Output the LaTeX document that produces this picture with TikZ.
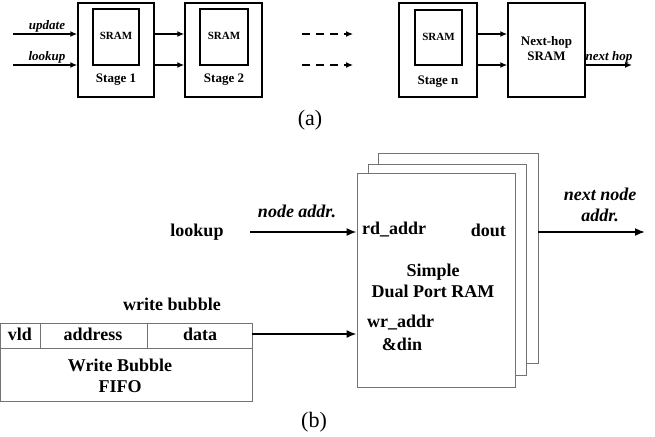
\documentclass[tikz,border=0pt]{standalone}
\usepackage{fontspec}
\setmainfont{Liberation Serif}
\usetikzlibrary{arrows.meta}
\tikzset{
  arr/.style={line width=1.4pt, -{Latex[length=7pt,width=6pt]}},
  darr/.style={line width=1.2pt, dash pattern=on 8pt off 6pt, -{Latex[length=7pt,width=6pt]}},
  barr/.style={line width=1.8pt, -{Latex[length=10pt,width=8pt]}},
  ram/.style={draw=black!55, line width=0.8pt, fill=white},
  fifo/.style={draw=black!55, line width=0.8pt},
  ta/.style={font=\fontsize{13}{15}\selectfont\bfseries, inner sep=0pt},
  tai/.style={font=\fontsize{13}{15}\selectfont\bfseries\itshape, inner sep=0pt},
  tsr/.style={font=\fontsize{11}{13}\selectfont\bfseries, inner sep=0pt},
  tb/.style={font=\fontsize{18}{21}\selectfont\bfseries, inner sep=0pt, align=center},
  tbi/.style={font=\fontsize{18}{21}\selectfont\bfseries\itshape, inner sep=0pt, align=center},
  captext/.style={font=\fontsize{22}{24}\selectfont, inner sep=0pt}
}
\begin{document}
\begin{tikzpicture}[x=1pt,y=-1pt]
\useasboundingbox (0,0) rectangle (655,436);
% ---------- (a) ----------
\node[draw, line width=1.5pt, minimum width=76pt, minimum height=94pt, inner sep=0pt] (s1) at (116,50) {};
\node[draw, line width=1.5pt, minimum width=46pt, minimum height=56pt, inner sep=0pt] (s1i) at (116,37) {};
\node[tsr] (s1t) at (116,36) {SRAM};
\node[ta] (s1l) at (116,80) {Stage 1};

\node[draw, line width=1.5pt, minimum width=77pt, minimum height=94pt, inner sep=0pt] (s2) at (223.5,50) {};
\node[draw, line width=1.5pt, minimum width=48pt, minimum height=56pt, inner sep=0pt] (s2i) at (224,37) {};
\node[tsr] (s2t) at (224,36) {SRAM};
\node[ta] (s2l) at (224,80) {Stage 2};

\node[draw, line width=1.5pt, minimum width=78pt, minimum height=94pt, inner sep=0pt] (sn) at (438,50) {};
\node[draw, line width=1.5pt, minimum width=47pt, minimum height=55pt, inner sep=0pt] (sni) at (438.5,37.5) {};
\node[tsr] (snt) at (438.5,37) {SRAM};
\node[ta] (snl) at (438,82) {Stage n};

\node[draw, line width=1.5pt, minimum width=77pt, minimum height=94pt, inner sep=0pt] (nh) at (546.5,50) {};
\node[ta, align=center] (nht) at (546.5,49) {Next-hop\\SRAM};

\coordinate (u0) at (13,34);
\coordinate (l0) at (13,65);
\draw[arr] (u0) -- (u0 -| s1.west);
\draw[arr] (l0) -- (l0 -| s1.west);
\node[tai] (ul) at (47,26) {update};
\node[tai] (ll) at (47,57) {lookup};
\draw[arr] (s1.east |- u0) -- (s2.west |- u0);
\draw[arr] (s1.east |- l0) -- (s2.west |- l0);
\coordinate (d1a) at (302,34);
\coordinate (d1b) at (353,34);
\coordinate (d2a) at (302,65);
\coordinate (d2b) at (353,65);
\draw[darr] (d1a) -- (d1b);
\draw[darr] (d2a) -- (d2b);
\draw[arr] (sn.east |- u0) -- (nh.west |- u0);
\draw[arr] (sn.east |- l0) -- (nh.west |- l0);
\coordinate (nho) at (632,65);
\draw[arr] (nh.east |- l0) -- (nho);
\node[tai] (nhl) at (609,57) {next hop};
\node[captext] (ca) at (310,120) {(a)};

% ---------- (b) ----------
\node[ram, minimum width=160pt, minimum height=210pt, inner sep=0pt] (r3) at (458,258) {};
\node[ram, minimum width=158pt, minimum height=211pt, inner sep=0pt] (r2) at (447,269.5) {};
\node[ram, minimum width=158pt, minimum height=214pt, inner sep=0pt] (r1) at (436,280) {};
\node[tb, anchor=west] (rd) at (362,230) {rd\_addr};
\node[tb, anchor=east] (dout) at (506,230) {dout};
\node[tb] (sdp) at (433,281) {Simple\\Dual Port RAM};
\node[tb, anchor=west] (wr) at (367,323) {wr\_addr};
\node[tb] (din) at (402,344) {\&din};

\node[tb] (lk) at (197,232) {lookup};
\coordinate (la) at (250,232);
\draw[barr] (la) -- (la -| r1.west);
\node[tbi] (na) at (297,211) {node addr.};
\coordinate (oa) at (645,232);
\draw[barr] (r3.east |- oa) -- (oa);
\node[tbi] (nna) at (600,205) {next node\\addr.};

% FIFO table
\coordinate (f1) at (0.5,323);
\coordinate (f2) at (252,401);
\draw[fifo] (f1) rectangle (f2);
\draw[fifo] (0.5,348) -- (252,348);
\draw[fifo] (40,323) -- (40,348);
\draw[fifo] (147,323) -- (147,348);
\node[tb] (vld) at (20,334) {vld};
\node[tb] (adr) at (93,334) {address};
\node[tb] (dat) at (200,334) {data};
\node[tb] (wbf) at (120,376) {Write Bubble\\FIFO};
\node[tb] (wbl) at (172,304) {write bubble};
\coordinate (fo) at (252,334);
\draw[barr] (fo) -- (fo -| r1.west);
\node[captext] (cb) at (314,422) {(b)};
\end{tikzpicture}
\end{document}
